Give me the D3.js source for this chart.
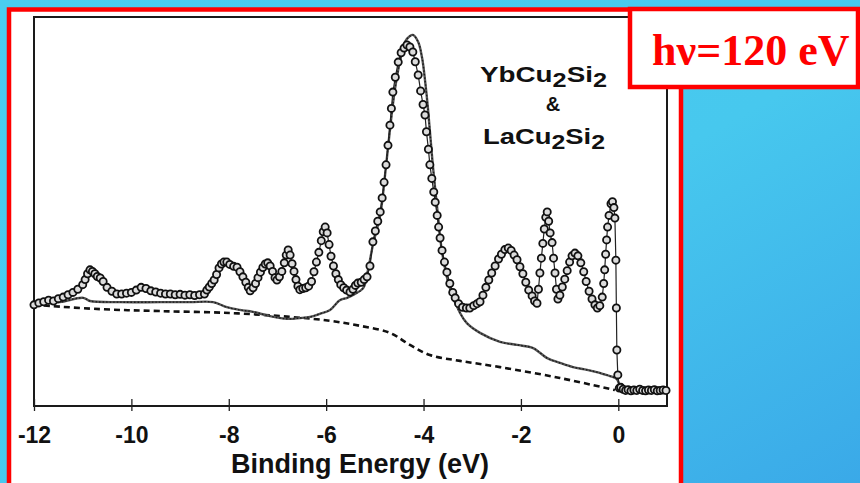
<!DOCTYPE html>
<html>
<head>
<meta charset="utf-8">
<script src="https://cdn.jsdelivr.net/npm/d3@7"></script>
<style>
  html, body { margin: 0; padding: 0; overflow: hidden; }
  svg { display: block; }
</style>
</head>
<body>
<svg id="chart" width="860" height="483"></svg>
<script>
// ---------------- DATA ----------------
const xTickValues = [-12, -10, -8, -6, -4, -2, 0];
const xAxisTitle = "Binding Energy (eV)";
const photonLabel = "hν=120 eV";

// YbCu2Si2 (open circles): [binding energy eV, intensity a.u.]
const ybData = [
  [-12.0,26.0],[-11.9,26.5],[-11.8,26.8],[-11.7,27.2],[-11.6,27.0],[-11.5,27.6],[-11.4,28.0],[-11.3,28.6],
  [-11.2,29.2],[-11.1,30.0],[-11.0,31.2],[-10.95,32.5],[-10.9,34.0],[-10.85,35.0],[-10.8,34.6],[-10.75,34.0],
  [-10.7,33.3],[-10.64,32.9],[-10.58,32.0],[-10.5,30.5],[-10.4,29.5],[-10.3,28.8],[-10.2,28.8],[-10.1,29.0],
  [-10.0,29.2],[-9.9,29.8],[-9.8,30.5],[-9.7,30.2],[-9.6,29.6],[-9.5,29.3],[-9.4,29.0],[-9.3,28.8],
  [-9.2,28.8],[-9.1,28.6],[-9.0,28.7],[-8.9,28.5],[-8.8,28.6],[-8.7,28.4],[-8.6,28.6],[-8.5,28.8],
  [-8.45,29.8],[-8.4,30.6],[-8.35,31.5],[-8.3,32.4],[-8.25,33.8],[-8.2,35.5],[-8.15,36.5],[-8.1,37.0],
  [-8.04,37.0],[-7.98,36.4],[-7.9,35.9],[-7.83,35.7],[-7.77,34.5],[-7.71,33.2],[-7.65,31.8],[-7.6,30.5],
  [-7.56,29.6],[-7.5,30.4],[-7.45,31.5],[-7.4,33.0],[-7.35,34.4],[-7.3,35.6],[-7.25,36.5],[-7.2,36.8],
  [-7.15,36.0],[-7.1,34.6],[-7.05,33.0],[-7.01,32.4],[-6.96,33.2],[-6.91,34.6],[-6.86,36.8],[-6.82,38.8],
  [-6.78,40.1],[-6.74,38.8],[-6.7,36.6],[-6.66,34.6],[-6.62,32.5],[-6.58,30.8],[-6.54,29.9],[-6.48,30.2],
  [-6.42,30.4],[-6.36,30.8],[-6.3,32.0],[-6.25,34.5],[-6.2,37.0],[-6.15,39.5],[-6.1,42.5],[-6.06,44.8],
  [-6.02,46.0],[-5.98,44.5],[-5.94,41.5],[-5.9,38.5],[-5.85,36.0],[-5.8,34.0],[-5.75,32.5],[-5.7,31.2],
  [-5.64,30.4],[-5.58,29.8],[-5.51,29.3],[-5.45,30.0],[-5.4,31.0],[-5.35,31.6],[-5.28,31.8],[-5.22,32.5],
  [-5.16,33.2],[-5.1,36.0],[-5.04,42.2],[-4.99,45.0],[-4.94,47.5],[-4.89,49.9],[-4.85,53.5],[-4.81,57.5],
  [-4.77,62.0],[-4.73,67.0],[-4.69,72.2],[-4.66,76.5],[-4.63,80.7],[-4.58,84.5],[-4.52,88.4],[-4.46,90.8],
  [-4.4,92.0],[-4.34,92.8],[-4.28,92.3],[-4.22,91.0],[-4.17,88.5],[-4.11,85.1],[-4.06,81.0],[-4.01,77.5],
  [-3.97,74.8],[-3.94,70.5],[-3.9,66.0],[-3.87,62.0],[-3.83,58.5],[-3.79,55.0],[-3.76,52.4],[-3.72,49.0],
  [-3.69,46.0],[-3.66,43.2],[-3.62,40.0],[-3.57,37.0],[-3.52,34.4],[-3.46,31.5],[-3.4,29.2],[-3.35,27.8],
  [-3.28,26.3],[-3.2,25.4],[-3.12,25.2],[-3.05,25.2],[-2.97,25.8],[-2.9,26.3],[-2.84,26.8],[-2.78,28.5],
  [-2.72,30.5],[-2.66,32.4],[-2.6,34.2],[-2.53,36.0],[-2.46,37.8],[-2.4,39.0],[-2.33,40.2],[-2.26,40.6],
  [-2.2,40.0],[-2.14,38.8],[-2.08,37.6],[-2.02,35.8],[-1.96,34.0],[-1.9,31.8],[-1.84,29.8],[-1.77,28.3],
  [-1.72,27.0],[-1.67,26.4],[-1.64,30.0],[-1.61,34.2],[-1.58,38.0],[-1.55,41.8],[-1.52,45.5],[-1.49,48.5],
  [-1.46,49.9],[-1.43,47.5],[-1.4,44.5],[-1.36,42.0],[-1.33,38.0],[-1.3,34.2],[-1.27,30.0],[-1.24,27.5],
  [-1.2,28.5],[-1.15,30.6],[-1.1,32.6],[-1.05,34.8],[-1.0,37.0],[-0.95,38.6],[-0.89,39.3],[-0.83,38.6],
  [-0.77,36.8],[-0.71,34.5],[-0.66,32.0],[-0.6,29.5],[-0.54,27.5],[-0.48,26.0],[-0.43,25.2],[-0.38,25.8],
  [-0.33,28.0],[-0.3,31.5],[-0.28,35.0],[-0.26,39.0],[-0.24,42.7],[-0.22,46.0],[-0.19,49.0],[-0.15,52.0],
  [-0.12,52.5],[-0.09,51.0],[-0.07,48.3],[-0.05,37.5],[-0.04,25.2],[-0.03,14.4],[-0.01,8.0],[0.02,4.6],
  [0.05,4.8],[0.1,4.3],[0.15,4.0],[0.2,4.2],[0.26,3.9],[0.32,4.1],[0.38,4.0],[0.44,4.3],[0.5,4.0],
  [0.56,3.9],[0.62,4.1],[0.68,4.0],[0.74,4.2],[0.8,3.9],[0.86,4.0],[0.92,4.1],[0.98,4.0]
];

// LaCu2Si2 (thin line)
const laData = [
  [-12.0,26.0],[-11.47,26.7],[-10.99,27.8],[-10.85,27.0],[-10.23,26.7],[-9.41,26.7],[-8.8,26.7],[-8.32,26.7],
  [-8.04,25.4],[-7.77,24.7],[-7.5,24.2],[-7.15,23.1],[-6.8,22.4],[-6.54,22.6],[-6.33,22.9],[-6.13,23.7],
  [-5.92,24.7],[-5.72,27.2],[-5.57,27.8],[-5.41,28.8],[-5.24,30.3],[-5.14,35.0],[-5.04,41.4],[-4.89,49.1],
  [-4.79,59.4],[-4.69,71.0],[-4.59,81.2],[-4.48,88.9],[-4.38,93.6],[-4.28,95.1],[-4.22,95.4],[-4.11,93.6],
  [-4.03,89.5],[-3.97,83.8],[-3.91,76.6],[-3.81,62.0],[-3.72,50.9],[-3.62,39.6],[-3.46,30.3],[-3.25,23.9],
  [-3.11,21.3],[-2.84,18.8],[-2.43,16.5],[-2.08,15.7],[-1.75,14.9],[-1.46,12.3],[-1.2,11.1],[-0.93,10.0],
  [-0.64,9.3],[-0.38,8.5],[-0.17,7.7],[-0.03,6.9],[0.04,5.1],[0.14,4.1],[0.5,4.1],[1.0,4.1]
];

// Background (dashed)
const bgData = [
  [-12.0,26.0],[-10.64,24.9],[-9.41,24.4],[-7.97,23.9],[-6.74,22.9],[-5.92,21.9],[-5.3,20.6],[-4.69,18.8],
  [-4.28,15.7],[-3.87,13.1],[-3.25,11.6],[-2.43,10.0],[-1.2,7.2],[-0.07,4.1]
];

// ---------------- DRAW ----------------
const svg = d3.select("#chart");
const W = 860, H = 483;

const defs = svg.append("defs");
const grad = defs.append("linearGradient").attr("id", "bg")
  .attr("x1", "0").attr("y1", "0").attr("x2", "1").attr("y2", "1");
grad.append("stop").attr("offset", "0%").attr("stop-color", "#4acdef");
grad.append("stop").attr("offset", "55%").attr("stop-color", "#47c8ee");
grad.append("stop").attr("offset", "100%").attr("stop-color", "#3aa9e8");
svg.append("rect").attr("width", W).attr("height", H).attr("fill", "url(#bg)");

// white panel with red border
svg.append("rect").attr("x", 9).attr("y", 9.5).attr("width", 672).attr("height", 490)
  .attr("fill", "#fff").attr("stroke", "#ff0000").attr("stroke-width", 4.5);

const plot = { left: 34, right: 667, top: 17, bottom: 406 };
const x = d3.scaleLinear().domain([-12, 1]).range([plot.left, plot.right]);
const y = d3.scaleLinear().domain([0, 100]).range([plot.bottom, plot.top]);

const g = svg.append("g");

// frame
g.append("rect").attr("x", plot.left).attr("y", plot.top)
  .attr("width", plot.right - plot.left).attr("height", plot.bottom - plot.top)
  .attr("fill", "none").attr("stroke", "#1a1a1a").attr("stroke-width", 2);

// x axis
const xAxis = d3.axisBottom(x).tickValues(xTickValues).tickSizeInner(-7).tickSizeOuter(0)
  .tickPadding(21).tickFormat(d3.format("d"));
const ax = g.append("g").attr("transform", `translate(0,${plot.bottom})`).call(xAxis);
ax.select(".domain").remove();
ax.selectAll(".tick line").attr("y1", 5).attr("stroke", "#222").attr("stroke-width", 1.3);
ax.selectAll(".tick text")
  .attr("font-family", "'Liberation Sans', Arial, Helvetica, sans-serif")
  .attr("font-weight", "bold").attr("font-size", 23).attr("fill", "#111")
  .text(d => d < 0 ? "-" + Math.abs(d) : String(d));

g.append("text").attr("x", 360).attr("y", 473).attr("text-anchor", "middle")
  .attr("font-family", "'Liberation Sans', Arial, Helvetica, sans-serif")
  .attr("font-weight", "bold").attr("font-size", 27).attr("fill", "#111")
  .text(xAxisTitle);

// background dashed
const smooth = d3.line().x(d => x(d[0])).y(d => y(d[1])).curve(d3.curveCatmullRom);
g.append("path").datum(bgData).attr("d", smooth)
  .attr("fill", "none").attr("stroke", "#111").attr("stroke-width", 2.6)
  .attr("stroke-dasharray", "6,4");

// LaCu2Si2 thin line with small markers
g.append("path").datum(laData).attr("d", smooth)
  .attr("fill", "none").attr("stroke", "#555").attr("stroke-width", 2.4);
g.append("path").datum(laData).attr("d", smooth)
  .attr("fill", "none").attr("stroke", "#1a1a1a").attr("stroke-width", 1.4)
  .attr("stroke-dasharray", "1.5,2");

// YbCu2Si2 circles with connecting line
const lin = d3.line().x(d => x(d[0])).y(d => y(d[1]));
g.append("path").datum(ybData).attr("d", lin)
  .attr("fill", "none").attr("stroke", "#222").attr("stroke-width", 1.2);
g.selectAll("circle.yb").data(ybData).enter().append("circle")
  .attr("class", "yb")
  .attr("cx", d => x(d[0])).attr("cy", d => y(d[1])).attr("r", 3.6)
  .attr("fill", "#dcdcdc").attr("stroke", "#111").attr("stroke-width", 1.8);

// legend labels
const lf = "'Liberation Sans', Arial, Helvetica, sans-serif";
function formula(parts, xPos, yPos, len) {
  const t = g.append("text").attr("x", xPos).attr("y", yPos)
    .attr("font-family", lf).attr("font-weight", "bold").attr("font-size", 22).attr("fill", "#111")
    .attr("textLength", len).attr("lengthAdjust", "spacingAndGlyphs");
  parts.forEach(p => {
    t.append("tspan").attr("dy", p.dy).attr("font-size", p.sub ? 20 : 22).text(p.t);
  });
}
formula([{t:"YbCu",dy:0},{t:"2",dy:5,sub:true},{t:"Si",dy:-5},{t:"2",dy:5,sub:true}], 480, 82, 127);
g.append("text").attr("x", 553).attr("y", 111).attr("text-anchor", "middle")
  .attr("font-family", lf).attr("font-weight", "bold").attr("font-size", 20).attr("fill", "#111").text("&");
formula([{t:"LaCu",dy:0},{t:"2",dy:5,sub:true},{t:"Si",dy:-5},{t:"2",dy:5,sub:true}], 483, 144, 122);

// photon energy box
svg.append("rect").attr("x", 630).attr("y", 9).attr("width", 228).attr("height", 78)
  .attr("fill", "#fff").attr("stroke", "#ff0000").attr("stroke-width", 4.5);
svg.append("text").attr("x", 652).attr("y", 65)
  .attr("font-family", "'Liberation Serif', 'Times New Roman', serif")
  .attr("font-weight", "bold").attr("font-size", 44).attr("fill", "#ff0000")
  .text(photonLabel);
</script>
</body>
</html>
